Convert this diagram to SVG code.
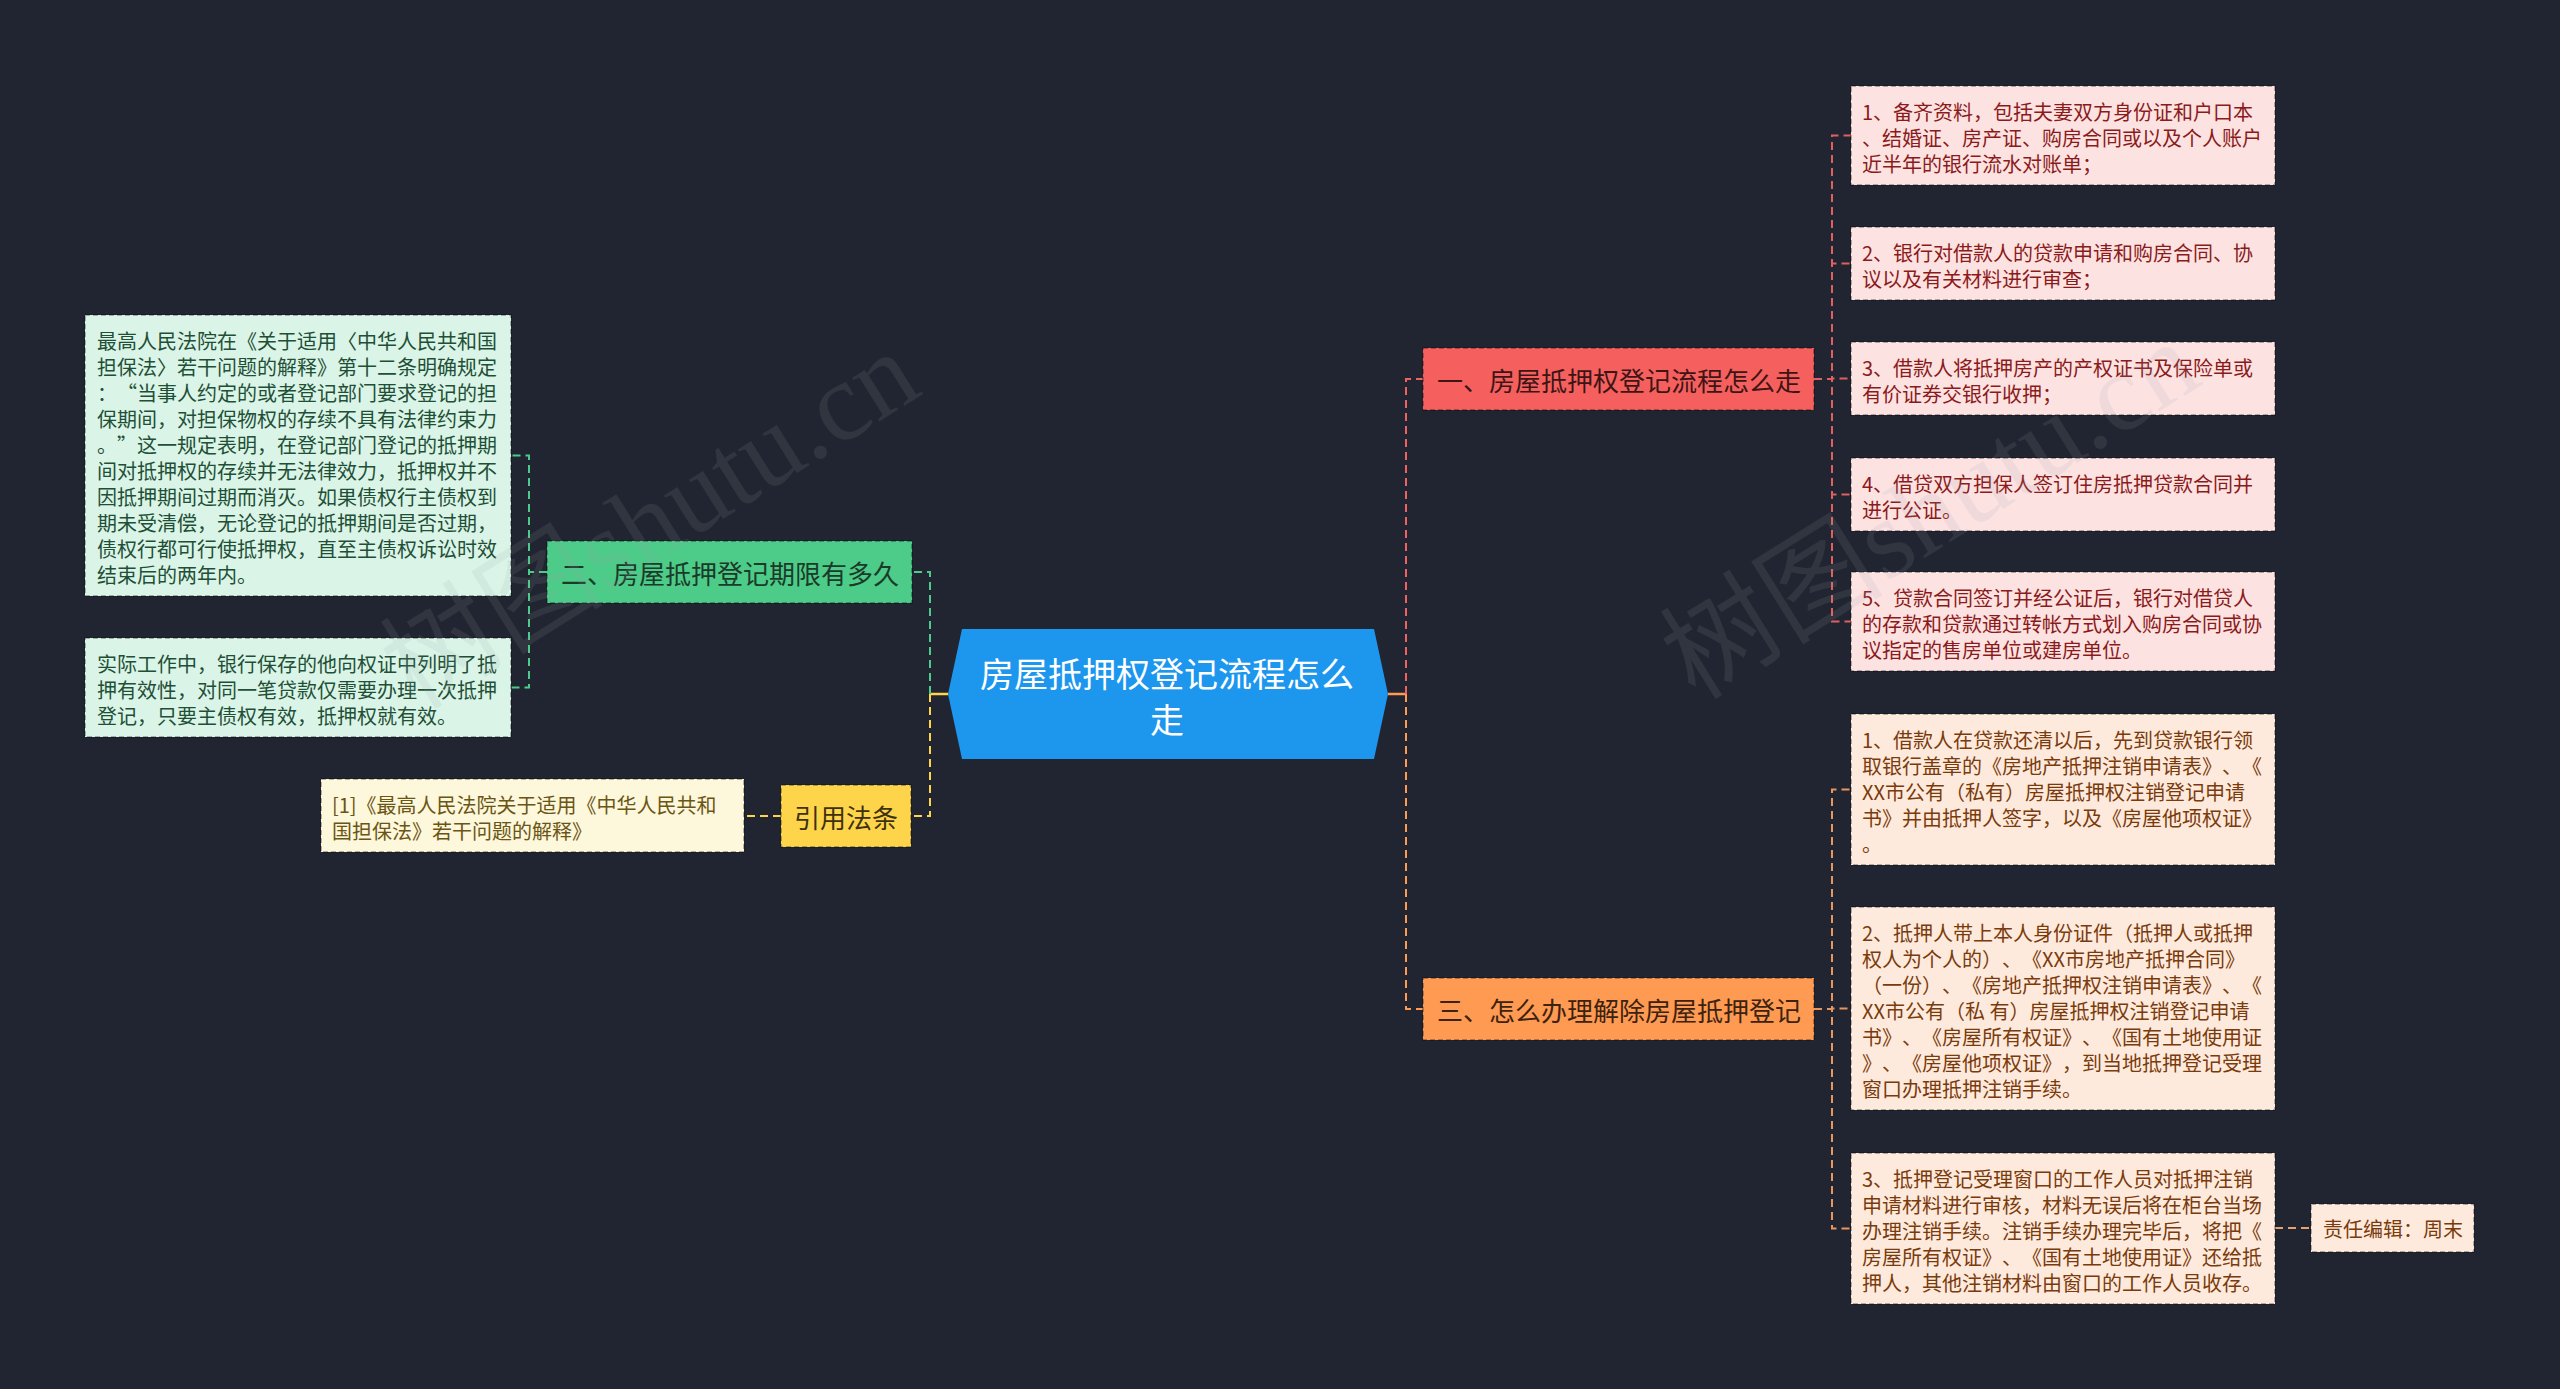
<svg xmlns="http://www.w3.org/2000/svg" width="2560" height="1389" viewBox="0 0 2560 1389">
<style>
text{font-family:"Noto Sans CJK SC","Noto Sans",sans-serif;dominant-baseline:central;text-spacing-trim:space-all;font-feature-settings:"chws" 0,"halt" 0}
.wm{font-family:"Liberation Serif","Noto Sans CJK SC",serif;font-size:112px;fill:#9aa0a8;fill-opacity:0.13;text-anchor:middle}
.main{font-size:26px}
.leaf{font-size:20px}
.bd{stroke:#000;stroke-opacity:0.38;stroke-width:1.5;stroke-dasharray:5 3}
.c{fill:none;stroke-width:2;stroke-dasharray:8 5}
.green{stroke:#4ccc88}.yellow{stroke:#fed44a}.red{stroke:#f06262}.orange{stroke:#ff9a52}
.red2{stroke:#e0605f}.org2{stroke:#e8955e}.org3{stroke:#e8a070}
</style>
<rect width="2560" height="1389" fill="#212531"/>

<g id="connectors">
<path d="M948,694 H930" fill="none" stroke="#fed44a" stroke-width="2.5"/>
<path d="M1388,694 H1406" fill="none" stroke="#ff9a52" stroke-width="2.5"/>
<path class="c green" d="M930,694 V572 H912"/>
<path class="c yellow" d="M930,694 V816 H911"/>
<path class="c red" d="M1406,694 V379 H1423"/>
<path class="c orange" d="M1406,694 V1009 H1423"/>
<path class="c green" d="M547,572 H529 V455.5 H511"/>
<path class="c green" d="M547,572 H529 V687.5 H511"/>
<path class="c yellow" d="M781,816 H744"/>
<path class="c red2" d="M1814,379 H1832 V135.5 H1851"/>
<path class="c red2" d="M1814,379 H1832 V263.5 H1851"/>
<path class="c red2" d="M1814,379 H1832 V378.5 H1851"/>
<path class="c red2" d="M1814,379 H1832 V494.5 H1851"/>
<path class="c red2" d="M1814,379 H1832 V621.5 H1851"/>
<path class="c org2" d="M1814,1009 H1832 V789.5 H1851"/>
<path class="c org2" d="M1814,1009 H1832 V1008.5 H1851"/>
<path class="c org2" d="M1814,1009 H1832 V1228.5 H1851"/>
<path class="c org3" d="M2275,1228 H2311"/>
</g>

<g id="center">
<polygon points="962,629 1374,629 1388,694 1374,759 962,759 948,694" fill="#1d96ee"/>
<text x="1167" y="672" font-size="34" fill="#ffffff" text-anchor="middle">房屋抵押权登记流程怎么</text>
<text x="1167" y="718" font-size="34" fill="#ffffff" text-anchor="middle">走</text>
</g>

<g id="n1">
<rect class="bd" x="1423" y="348" width="391" height="62" fill="#f5605f"/>
<text class="main" x="1437" y="379" fill="#3d1515">一、房屋抵押权登记流程怎么走</text>
</g>
<g id="n3">
<rect class="bd" x="1423" y="978" width="391" height="62" fill="#ff9a52"/>
<text class="main" x="1437" y="1009" fill="#3d2210">三、怎么办理解除房屋抵押登记</text>
</g>
<g id="n2">
<rect class="bd" x="547" y="541" width="365" height="62" fill="#4ccc88"/>
<text class="main" x="561" y="572" fill="#1b3a29">二、房屋抵押登记期限有多久</text>
</g>
<g id="n4">
<rect class="bd" x="781" y="785" width="130" height="62" fill="#fed44a"/>
<text class="main" x="794" y="816" fill="#3d3210">引用法条</text>
</g>

<g id="g1" fill="#1f4f36">
<rect class="bd" x="85" y="315" width="426" height="281" fill="#daf5e7"/>
<text class="leaf" x="97" y="340">最高人民法院在《关于适用〈中华人民共和国</text>
<text class="leaf" x="97" y="366">担保法〉若干问题的解释》第十二条明确规定</text>
<text class="leaf" x="97" y="392">：“当事人约定的或者登记部门要求登记的担</text>
<text class="leaf" x="97" y="418">保期间，对担保物权的存续不具有法律约束力</text>
<text class="leaf" x="97" y="444">。”这一规定表明，在登记部门登记的抵押期</text>
<text class="leaf" x="97" y="470">间对抵押权的存续并无法律效力，抵押权并不</text>
<text class="leaf" x="97" y="496">因抵押期间过期而消灭。如果债权行主债权到</text>
<text class="leaf" x="97" y="522">期未受清偿，无论登记的抵押期间是否过期，</text>
<text class="leaf" x="97" y="548">债权行都可行使抵押权，直至主债权诉讼时效</text>
<text class="leaf" x="97" y="574">结束后的两年内。</text>
</g>
<g id="g2" fill="#1f4f36">
<rect class="bd" x="85" y="638" width="426" height="99" fill="#daf5e7"/>
<text class="leaf" x="97" y="663">实际工作中，银行保存的他向权证中列明了抵</text>
<text class="leaf" x="97" y="689">押有效性，对同一笔贷款仅需要办理一次抵押</text>
<text class="leaf" x="97" y="715">登记，只要主债权有效，抵押权就有效。</text>
</g>
<g id="cite" fill="#6b5514">
<rect class="bd" x="321" y="779" width="423" height="73" fill="#fdf7db"/>
<text class="leaf" x="332" y="804">[1]《最高人民法院关于适用《中华人民共和</text>
<text class="leaf" x="332" y="830">国担保法》若干问题的解释》</text>
</g>

<g id="p1" fill="#8b1a1a">
<rect class="bd" x="1851" y="86" width="424" height="99" fill="#fde2e2"/>
<text class="leaf" x="1862" y="111">1、备齐资料，包括夫妻双方身份证和户口本</text>
<text class="leaf" x="1862" y="137">、结婚证、房产证、购房合同或以及个人账户</text>
<text class="leaf" x="1862" y="163">近半年的银行流水对账单；</text>
</g>
<g id="p2" fill="#8b1a1a">
<rect class="bd" x="1851" y="227" width="424" height="73" fill="#fde2e2"/>
<text class="leaf" x="1862" y="252">2、银行对借款人的贷款申请和购房合同、协</text>
<text class="leaf" x="1862" y="278">议以及有关材料进行审查；</text>
</g>
<g id="p3" fill="#8b1a1a">
<rect class="bd" x="1851" y="342" width="424" height="73" fill="#fde2e2"/>
<text class="leaf" x="1862" y="367">3、借款人将抵押房产的产权证书及保险单或</text>
<text class="leaf" x="1862" y="393">有价证券交银行收押；</text>
</g>
<g id="p4" fill="#8b1a1a">
<rect class="bd" x="1851" y="458" width="424" height="73" fill="#fde2e2"/>
<text class="leaf" x="1862" y="483">4、借贷双方担保人签订住房抵押贷款合同并</text>
<text class="leaf" x="1862" y="509">进行公证。</text>
</g>
<g id="p5" fill="#8b1a1a">
<rect class="bd" x="1851" y="572" width="424" height="99" fill="#fde2e2"/>
<text class="leaf" x="1862" y="597">5、贷款合同签订并经公证后，银行对借贷人</text>
<text class="leaf" x="1862" y="623">的存款和贷款通过转帐方式划入购房合同或协</text>
<text class="leaf" x="1862" y="649">议指定的售房单位或建房单位。</text>
</g>

<g id="q1" fill="#7a3b0c">
<rect class="bd" x="1851" y="714" width="424" height="151" fill="#feeadc"/>
<text class="leaf" x="1862" y="739">1、借款人在贷款还清以后，先到贷款银行领</text>
<text class="leaf" x="1862" y="765">取银行盖章的《房地产抵押注销申请表》、《</text>
<text class="leaf" x="1862" y="791">XX市公有（私有）房屋抵押权注销登记申请</text>
<text class="leaf" x="1862" y="817">书》并由抵押人签字，以及《房屋他项权证》</text>
<text class="leaf" x="1862" y="843">。</text>
</g>
<g id="q2" fill="#7a3b0c">
<rect class="bd" x="1851" y="907" width="424" height="203" fill="#feeadc"/>
<text class="leaf" x="1862" y="932">2、抵押人带上本人身份证件（抵押人或抵押</text>
<text class="leaf" x="1862" y="958">权人为个人的）、《XX市房地产抵押合同》</text>
<text class="leaf" x="1862" y="984">（一份）、《房地产抵押权注销申请表》、《</text>
<text class="leaf" x="1862" y="1010">XX市公有（私 有）房屋抵押权注销登记申请</text>
<text class="leaf" x="1862" y="1036">书》、《房屋所有权证》、《国有土地使用证</text>
<text class="leaf" x="1862" y="1062">》、《房屋他项权证》，到当地抵押登记受理</text>
<text class="leaf" x="1862" y="1088">窗口办理抵押注销手续。</text>
</g>
<g id="q3" fill="#7a3b0c">
<rect class="bd" x="1851" y="1153" width="424" height="151" fill="#feeadc"/>
<text class="leaf" x="1862" y="1178">3、抵押登记受理窗口的工作人员对抵押注销</text>
<text class="leaf" x="1862" y="1204">申请材料进行审核，材料无误后将在柜台当场</text>
<text class="leaf" x="1862" y="1230">办理注销手续。注销手续办理完毕后，将把《</text>
<text class="leaf" x="1862" y="1256">房屋所有权证》、《国有土地使用证》还给抵</text>
<text class="leaf" x="1862" y="1282">押人，其他注销材料由窗口的工作人员收存。</text>
</g>
<g id="editor" fill="#7a3b0c">
<rect class="bd" x="2311" y="1204" width="163" height="48" fill="#feeadc"/>
<text class="leaf" x="2323" y="1228">责任编辑：周末</text>
</g>

<g id="watermarks">
<text class="wm" x="650" y="520" transform="rotate(-32 650 520)">树图shutu.cn</text>
<text class="wm" x="1930" y="510" transform="rotate(-32 1930 510)">树图shutu.cn</text>
</g>
</svg>
